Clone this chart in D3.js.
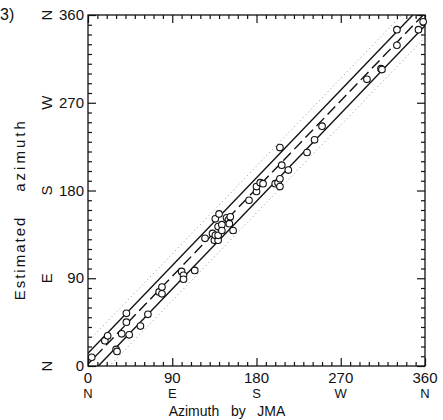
<!DOCTYPE html>
<html>
<head>
<meta charset="utf-8">
<script src="https://cdn.jsdelivr.net/npm/d3@7"></script>
<style>
  body { margin: 0; background: #fff; }
  text { font-family: "Liberation Sans", Arial, sans-serif; fill: #111; }
</style>
</head>
<body>
<div id="chart"></div>
<script>
const width = 443;
const height = 420;
const margin = ({top: 15, right: 18, bottom: 54, left: 88});

// azimuth by JMA (x) vs estimated azimuth (y), degrees
const jma = [4, 18, 21, 30, 31, 36, 41, 41, 44, 56, 64, 76, 79, 79,
    100, 102, 102, 114, 125, 133, 135, 139, 136, 139, 136, 140, 139, 143, 143,
    148, 150, 152, 151, 155, 172, 180, 180, 184, 187, 200, 203, 205, 205,
    205, 207, 214, 234, 242, 250, 298, 313, 314, 330, 330, 353, 358];
const estimated = [9, 26, 31, 17, 15, 33, 45, 54, 32, 41, 53, 76, 81, 74,
    97, 93, 89, 98, 131, 136, 129, 129, 134, 134, 151, 156, 143, 145, 139,
    152, 150, 153, 146, 139, 170, 179, 184, 188, 187, 187, 188, 184, 192,
    224, 206, 201, 219, 232, 246, 294, 305, 304, 329, 345, 345, 353];

const tickValues = [0, 90, 180, 270, 360];
const dirLabels = ["N", "E", "S", "W", "N"];

// band lines y = x + offset
const centerOffset = 2;
const solidOffsets = [-11, 13];
const dottedOffsets = [-23, 25];

let svg = d3.select("#chart")
    .append("svg")
    .attr("width", width)
    .attr("height", height);

let xScale = d3.scaleLinear().domain([0, 360]).range([margin.left, width - margin.right]);
let yScale = d3.scaleLinear().domain([0, 360]).range([height - margin.bottom, margin.top]);

svg.append("defs").append("clipPath")
    .attr("id", "plot")
    .append("rect")
    .attr("x", margin.left)
    .attr("y", margin.top)
    .attr("width", width - margin.right - margin.left)
    .attr("height", height - margin.bottom - margin.top);

// frame
svg.append("rect")
    .attr("x", margin.left)
    .attr("y", margin.top)
    .attr("width", width - margin.right - margin.left)
    .attr("height", height - margin.bottom - margin.top)
    .attr("fill", "none")
    .attr("stroke", "#111")
    .attr("stroke-width", 1.3);

const minor = d3.range(0, 361, 10);
const tickLen = (d) => d % 90 === 0 ? -8 : -4;

function styleTicks(g) {
    g.select(".domain").remove();
    g.selectAll(".tick line")
        .attr("stroke", "#111")
        .attr("stroke-width", 1.2);
    g.selectAll(".tick text").remove();
}

svg.append("g")
    .attr("transform", "translate(0," + (height - margin.bottom) + ")")
    .call(d3.axisBottom(xScale).tickValues(minor).tickSizeOuter(0))
    .call(styleTicks)
    .selectAll(".tick line").attr("y2", tickLen);

svg.append("g")
    .attr("transform", "translate(0," + margin.top + ")")
    .call(d3.axisTop(xScale).tickValues(minor).tickSizeOuter(0))
    .call(styleTicks)
    .selectAll(".tick line").attr("y2", (d) => -tickLen(d));

svg.append("g")
    .attr("transform", "translate(" + margin.left + ",0)")
    .call(d3.axisLeft(yScale).tickValues(minor).tickSizeOuter(0))
    .call(styleTicks)
    .selectAll(".tick line").attr("x2", (d) => -tickLen(d));

svg.append("g")
    .attr("transform", "translate(" + (width - margin.right) + ",0)")
    .call(d3.axisRight(yScale).tickValues(minor).tickSizeOuter(0))
    .call(styleTicks)
    .selectAll(".tick line").attr("x2", tickLen);

// band lines
let lines = svg.append("g").attr("clip-path", "url(#plot)");

function bandLine(offset) {
    return d3.line()
        .x((d) => xScale(d))
        .y((d) => yScale(d + offset))([-40, 400]);
}

dottedOffsets.forEach(function (o) {
    lines.append("path")
        .attr("d", bandLine(o))
        .attr("fill", "none")
        .attr("stroke", "#777")
        .attr("stroke-width", 0.8)
        .attr("stroke-dasharray", "1,3");
});

solidOffsets.forEach(function (o) {
    lines.append("path")
        .attr("d", bandLine(o))
        .attr("fill", "none")
        .attr("stroke", "#111")
        .attr("stroke-width", 1.4);
});

lines.append("path")
    .attr("d", bandLine(centerOffset))
    .attr("fill", "none")
    .attr("stroke", "#111")
    .attr("stroke-width", 1.4)
    .attr("stroke-dasharray", "11,5");

// points
svg.append("g")
    .selectAll("circle")
    .data(jma)
    .enter()
    .append("circle")
    .attr("cx", (d) => xScale(d))
    .attr("cy", (d, i) => yScale(estimated[i]))
    .attr("r", 3.3)
    .attr("fill", "#fff")
    .attr("stroke", "#111")
    .attr("stroke-width", 1.1);

// x tick labels
let xl = svg.append("g").attr("font-size", 15).attr("text-anchor", "middle");
tickValues.forEach(function (v, i) {
    xl.append("text")
        .attr("x", xScale(v))
        .attr("y", height - margin.bottom + 17)
        .text(v);
    xl.append("text")
        .attr("x", xScale(v))
        .attr("y", height - margin.bottom + 32)
        .attr("font-size", 13)
        .text(dirLabels[i]);
});

// y tick labels
let yl = svg.append("g").attr("font-size", 15);
tickValues.forEach(function (v, i) {
    yl.append("text")
        .attr("x", margin.left - 4)
        .attr("y", yScale(v) + 5)
        .attr("text-anchor", "end")
        .text(v);
    yl.append("text")
        .attr("transform", "translate(47," + yScale(v) + ") rotate(-90)")
        .attr("text-anchor", "middle")
        .attr("dy", "0.35em")
        .text(dirLabels[i]);
});

// axis titles
svg.append("text")
    .attr("x", 227)
    .attr("y", 416)
    .attr("font-size", 14)
    .attr("text-anchor", "middle")
    .style("white-space", "pre")
    .text("Azimuth   by   JMA");

svg.append("text")
    .attr("transform", "translate(25,258) rotate(-90)")
    .attr("font-size", 15)
    .attr("text-anchor", "middle")
    .attr("letter-spacing", 2)
    .text("Estimated");

svg.append("text")
    .attr("transform", "translate(25,155) rotate(-90)")
    .attr("font-size", 15)
    .attr("text-anchor", "middle")
    .attr("letter-spacing", 3)
    .text("azimuth");

svg.append("text")
    .attr("x", 0)
    .attr("y", 20)
    .attr("font-size", 16)
    .text("3)");
</script>
</body>
</html>
